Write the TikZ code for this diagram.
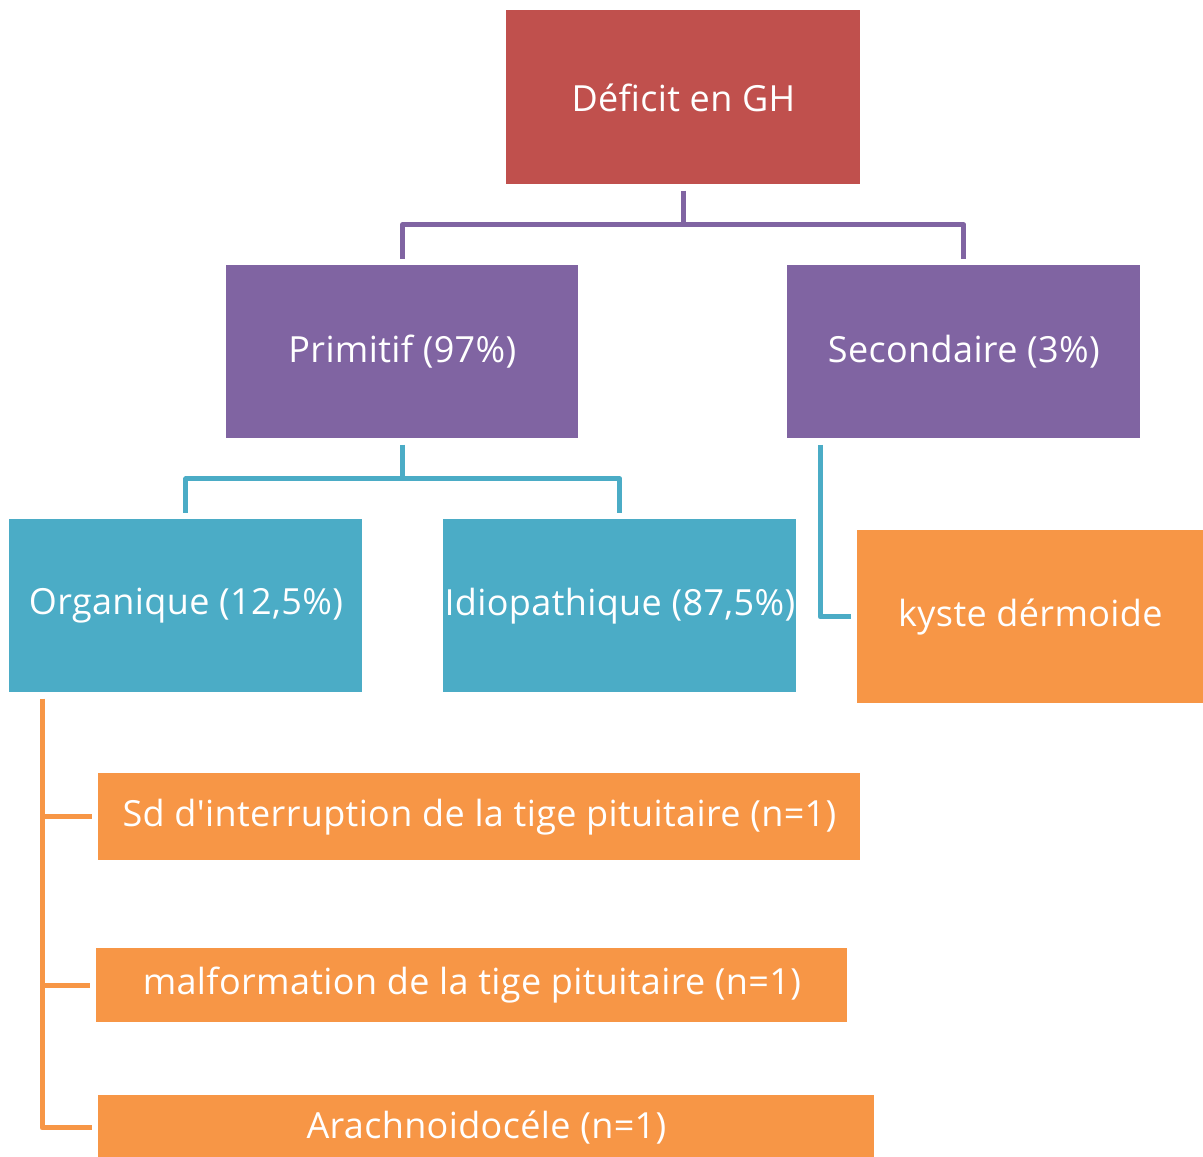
\documentclass[tikz,border=0pt]{standalone}
\usepackage{fontspec}
\setmainfont{Open Sans}[LetterSpace=1, Ligatures=TeXOff]
\usetikzlibrary{positioning}

\definecolor{ghred}{HTML}{C0504D}
\definecolor{ghpurple}{HTML}{8064A2}
\definecolor{ghteal}{HTML}{4BACC6}
\definecolor{ghorange}{HTML}{F79646}

\tikzset{
  box/.style={rectangle, inner sep=0pt, anchor=north west, text=white,
    font=\fontsize{18}{21}\selectfont},
  link/.style={line width=2.5pt, line join=round, shorten <=3pt, shorten >=3pt}
}

\begin{document}
\begin{tikzpicture}[x=0.5pt, y=-0.5pt]
    \useasboundingbox (0,0) rectangle (1203,1156);

    % Top level
    \node[box, fill=ghred, minimum width=177pt, minimum height=87pt] (gh) at (506,10) {Déficit en GH};

    % Second level
    \node[box, fill=ghpurple, minimum width=176pt, minimum height=86.5pt] (prim) at (226,265) {Primitif (97\%)};
    \node[box, fill=ghpurple, minimum width=176.5pt, minimum height=86.5pt] (sec) at (787,265) {Secondaire (3\%)};

    % Third level
    \node[box, fill=ghteal, minimum width=176.5pt, minimum height=86.5pt] (org) at (9,519) {Organique (12,5\%)};
    \node[box, fill=ghteal, minimum width=176.5pt, minimum height=86.5pt] (idio) at (443,519) {Idiopathique (87,5\%)};
    \node[box, fill=ghorange, minimum width=173pt, minimum height=86.5pt] (kyste) at (857,530) {kyste dérmoide};

    % Organic causes
    \node[box, fill=ghorange, minimum width=381pt, minimum height=43.5pt] (sd) at (98,773) {Sd d'interruption de la tige pituitaire (n=1)};
    \node[box, fill=ghorange, minimum width=375.5pt, minimum height=37pt] (malf) at (96,948) {malformation de la tige pituitaire (n=1)};
    \node[box, fill=ghorange, minimum width=388pt, minimum height=32.5pt] (arach) at (98,1095) {Arachnoidocéle (n=1)};

    % Connectors
    \draw[link, ghpurple] (gh.south) -- ++(0,40) -| (prim.north);
    \draw[link, ghpurple] (gh.south) -- ++(0,40) -| (sec.north);
    \draw[link, ghteal] (prim.south) -- ++(0,40) -| (org.north);
    \draw[link, ghteal] (prim.south) -- ++(0,40) -| (idio.north);
    \draw[link, ghteal] ([xshift=16.5pt]sec.south west) |- (kyste.west);
    \foreach \child in {sd, malf, arach} {
        \draw[link, ghorange] ([xshift=16.5pt]org.south west) |- (\child.west);
    }
\end{tikzpicture}
\end{document}
